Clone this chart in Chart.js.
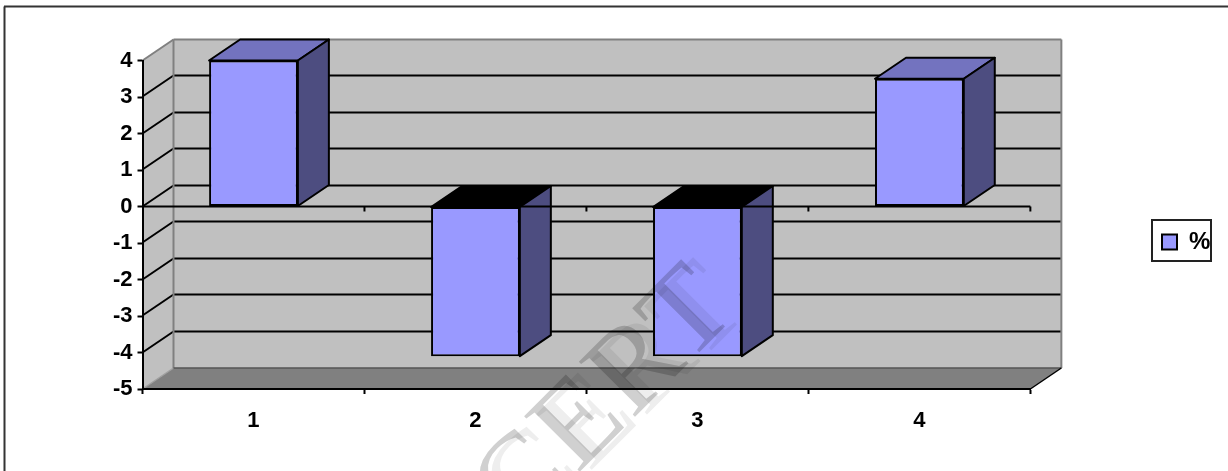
<!DOCTYPE html>
<html>
<head>
<meta charset="utf-8">
<title>%</title>
<script src="https://cdn.jsdelivr.net/npm/chart.js@4/dist/chart.umd.min.js"></script>
<style>
    html, body { margin: 0; padding: 0; background: #fff; }
    canvas { display: block; }
</style>
</head>
<body>
<canvas id="chart" width="1228" height="471"></canvas>
<script>
const categories = ['1', '2', '3', '4'];
const percentValues = [4, -4.1, -4.1, 3.5];
const seriesName = '%';
const axisMin = -5;
const axisMax = 4;
const watermarkText = 'NCERT';

// depth of the fake 3D box, in pixels
const depthX = 31;
const depthY = 21;

const labelFont = { family: '"Liberation Sans", Arial, sans-serif', size: 22, weight: 'bold' };

function poly(ctx, pts, fill, stroke, width) {
    ctx.beginPath();
    pts.forEach((p, i) => i ? ctx.lineTo(p[0], p[1]) : ctx.moveTo(p[0], p[1]));
    ctx.closePath();
    if (fill) {
        ctx.fillStyle = fill;
        ctx.fill();
    }
    if (stroke) {
        ctx.strokeStyle = stroke;
        ctx.lineWidth = width;
        ctx.stroke();
    }
}

function line(ctx, x1, y1, x2, y2, color, width) {
    ctx.beginPath();
    ctx.moveTo(x1, y1);
    ctx.lineTo(x2, y2);
    ctx.strokeStyle = color;
    ctx.lineWidth = width;
    ctx.stroke();
}

const box3d = {
    id: 'box3d',
    afterLayout(chart) {
        // legend sits away from the plot, in its own framed box
        const l = chart.legend;
        l.left = 1152;
        l.right = 1211;
        l.width = 59;
        l.top = 220;
        l.height = 41;
        l.bottom = 261;
    },
    beforeDraw(chart) {
        const ctx = chart.ctx;
        const { left, right, top, bottom } = chart.chartArea;
        const yScale = chart.scales.y;

        ctx.save();
        // outer frame, open on the right and at the bottom
        line(ctx, 4.5, 471, 4.5, 6.5, '#333', 2);
        line(ctx, 4, 6.5, 1228, 6.5, '#333', 2);

        // back wall, left wall, floor
        poly(ctx, [[left + depthX, top - depthY], [right + depthX, top - depthY],
            [right + depthX, bottom - depthY], [left + depthX, bottom - depthY]], '#c0c0c0');
        poly(ctx, [[left, top], [left + depthX, top - depthY],
            [left + depthX, bottom - depthY], [left, bottom]], '#c0c0c0');
        poly(ctx, [[left, bottom], [left + depthX, bottom - depthY],
            [right + depthX, bottom - depthY], [right, bottom]], '#808080');

        // gridlines wrap round the left wall and along the back wall
        yScale.ticks.forEach(t => {
            if (t.value === axisMin || t.value === axisMax) return;
            const y = Math.round(yScale.getPixelForValue(t.value)) - 0.5;
            line(ctx, left, y, left + depthX, y - depthY, '#000', 2);
            line(ctx, left + depthX, y - depthY, right + depthX, y - depthY, '#000', 2);
        });

        // wall edges
        line(ctx, left, top, left + depthX, top - depthY, '#808080', 2);
        line(ctx, left + depthX, top - depthY, right + depthX, top - depthY, '#808080', 2);
        line(ctx, left + depthX, top - depthY, left + depthX, bottom - depthY, '#808080', 2);
        line(ctx, right + depthX, top - depthY, right + depthX, bottom - depthY, '#808080', 2);
        line(ctx, left, bottom, left + depthX, bottom - depthY, '#a0a0a0', 1.5);
        line(ctx, left + depthX, bottom - depthY, right + depthX, bottom - depthY, '#555', 1.5);
        line(ctx, right, bottom, right + depthX, bottom - depthY, '#000', 1.5);
        ctx.restore();
    },
    beforeDatasetsDraw(chart) {
        const ctx = chart.ctx;
        ctx.save();
        ctx.lineJoin = 'round';
        chart.getDatasetMeta(0).data.forEach(bar => {
            const x1 = bar.x - bar.width / 2;
            const x2 = bar.x + bar.width / 2;
            const yTop = Math.min(bar.y, bar.base);
            const yBot = Math.max(bar.y, bar.base);
            const negative = bar.y > bar.base;
            poly(ctx, [[x1, yTop], [x1 + depthX, yTop - depthY], [x2 + depthX, yTop - depthY], [x2, yTop]],
                negative ? '#000' : '#7373bf', '#000', 2);
            poly(ctx, [[x2, yTop], [x2 + depthX, yTop - depthY], [x2 + depthX, yBot - depthY], [x2, yBot]],
                '#4d4d80', '#000', 2);
        });
        ctx.restore();
    },
    afterDatasetsDraw(chart) {
        const ctx = chart.ctx;
        const xScale = chart.scales.x;
        const y0 = chart.scales.y.getPixelForValue(0);
        ctx.save();
        // category axis crossing at zero
        line(ctx, xScale.left, y0, xScale.right, y0, '#000', 2);
        const step = xScale.width / categories.length;
        for (let i = 1; i <= categories.length; i++) {
            const x = xScale.left + i * step;
            line(ctx, x, y0, x, y0 + 5, '#000', 2);
        }
        ctx.restore();
    },
    afterDraw(chart) {
        const ctx = chart.ctx;
        const l = chart.legend;
        ctx.save();
        ctx.strokeStyle = '#222';
        ctx.lineWidth = 2;
        ctx.strokeRect(l.left, l.top, l.width, l.height);

        // faint diagonal stamp over everything
        ctx.globalCompositeOperation = 'multiply';
        ctx.font = '120px "Liberation Serif", serif';
        ctx.textAlign = 'center';
        ctx.textBaseline = 'middle';
        ctx.letterSpacing = '4px';
        ctx.translate(575, 432);
        ctx.rotate(-Math.PI / 4);
        ctx.fillStyle = '#eeeeee';
        ctx.fillText(watermarkText, 10, 7);
        ctx.fillStyle = '#d0d0d0';
        ctx.fillText(watermarkText, 0, 0);
        ctx.restore();
    }
};

new Chart(document.getElementById('chart'), {
    type: 'bar',
    data: {
        labels: categories,
        datasets: [{
            label: seriesName,
            data: percentValues,
            backgroundColor: '#9999ff',
            borderColor: '#000',
            borderWidth: 2,
            borderSkipped: false,
            categoryPercentage: 1,
            barPercentage: 0.4
        }]
    },
    options: {
        responsive: false,
        animation: false,
        layout: { padding: { left: 60, right: 129.3, top: 60.5, bottom: 12 } },
        plugins: {
            title: { display: false },
            tooltip: { enabled: false },
            legend: {
                position: 'right',
                align: 'start',
                labels: {
                    boxWidth: 15,
                    boxHeight: 15,
                    padding: 10,
                    color: '#000',
                    font: { ...labelFont, size: 24 }
                }
            }
        },
        scales: {
            x: {
                afterFit: s => { s.height = 70; },
                grid: { drawOnChartArea: false, tickLength: 5, tickColor: '#000', tickWidth: 2 },
                border: { color: '#000', width: 2 },
                ticks: { color: '#000', font: labelFont, padding: 14, maxRotation: 0 }
            },
            y: {
                min: axisMin,
                max: axisMax,
                afterFit: s => { s.width = 82.5; },
                grid: { drawOnChartArea: false, tickLength: 5, tickColor: '#000', tickWidth: 2 },
                border: { color: '#000', width: 2 },
                ticks: { color: '#000', font: labelFont, padding: 5, stepSize: 1 }
            }
        }
    },
    plugins: [box3d]
});
</script>
</body>
</html>
